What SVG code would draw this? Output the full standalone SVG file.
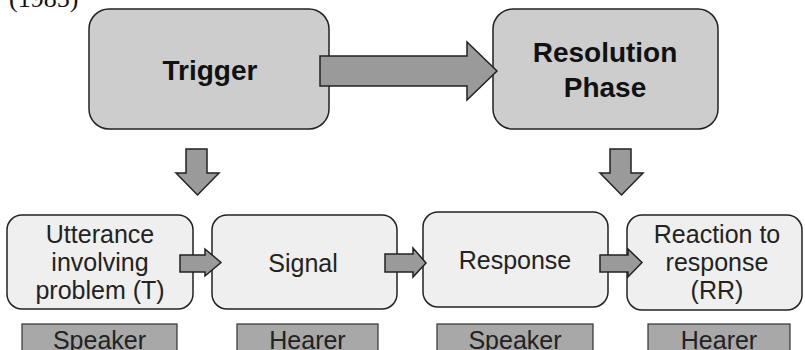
<svg xmlns="http://www.w3.org/2000/svg" width="805" height="350" viewBox="0 0 805 350">
  <style>
    .phase { fill: #cdcdcd; stroke: #222; stroke-width: 1.5; }
    .step { fill: #efefef; stroke: #222; stroke-width: 1.5; }
    .arrow { fill: #9a9a9a; stroke: #222; stroke-width: 1.5; stroke-linejoin: miter; }
    .role { fill: #a8a8a8; stroke: #333; stroke-width: 1.2; }
    .bold { font-family: "Liberation Sans", Arial, sans-serif; font-weight: bold; font-size: 28px; fill: #111; text-anchor: middle; }
    .reg { font-family: "Liberation Sans", Arial, sans-serif; font-size: 25px; fill: #222; text-anchor: middle; }
    .cite { font-family: "Liberation Serif", "Times New Roman", serif; font-size: 26px; fill: #111; }
  </style>

  <text class="cite" x="9" y="7">(1985)</text>

  <g id="trigger">
    <rect class="phase" x="89" y="9" width="240" height="120" rx="20" ry="20"/>
    <text class="bold" x="210" y="80">Trigger</text>
  </g>

  <g id="resolution-phase">
    <rect class="phase" x="493" y="9" width="225" height="120" rx="20" ry="20"/>
    <text class="bold" x="605" y="62">Resolution</text>
    <text class="bold" x="605" y="97">Phase</text>
  </g>

  <g id="utterance">
    <rect class="step" x="7" y="215" width="186" height="94" rx="15" ry="15"/>
    <text class="reg" x="100" y="243">Utterance</text>
    <text class="reg" x="100" y="271">involving</text>
    <text class="reg" x="100" y="299">problem (T)</text>
  </g>

  <g id="signal">
    <rect class="step" x="212" y="215" width="185" height="94" rx="15" ry="15"/>
    <text class="reg" x="303" y="272">Signal</text>
  </g>

  <g id="response">
    <rect class="step" x="423" y="212" width="185" height="95" rx="15" ry="15"/>
    <text class="reg" x="515" y="269">Response</text>
  </g>

  <g id="reaction">
    <rect class="step" x="627" y="215" width="175" height="95" rx="15" ry="15"/>
    <text class="reg" x="717" y="243">Reaction to</text>
    <text class="reg" x="717" y="271">response</text>
    <text class="reg" x="717" y="299">(RR)</text>
  </g>

  <g id="role-speaker-1">
    <rect class="role" x="22" y="324" width="155" height="40"/>
    <text class="reg" x="99.5" y="349">Speaker</text>
  </g>
  <g id="role-hearer-1">
    <rect class="role" x="237" y="324" width="141" height="40"/>
    <text class="reg" x="307.5" y="349">Hearer</text>
  </g>
  <g id="role-speaker-2">
    <rect class="role" x="437" y="324" width="156" height="40"/>
    <text class="reg" x="515" y="349">Speaker</text>
  </g>
  <g id="role-hearer-2">
    <rect class="role" x="648" y="324" width="142" height="40"/>
    <text class="reg" x="719" y="349">Hearer</text>
  </g>

  <g id="connectors">
    <!-- Trigger to Resolution Phase -->
    <polygon class="arrow" points="320,56 467,56 467,42 497,71 467,100 467,86 320,86"/>
    <!-- phases down to the steps -->
    <polygon class="arrow" points="186,149 207,149 207,173 219,173 197.5,195 176,173 186,173"/>
    <polygon class="arrow" points="610,149 631,149 631,173 643,173 621.5,195 600,173 610,173"/>
    <!-- step to step -->
    <polygon class="arrow" points="180,255 205,255 205,249 221,262.5 205,276 205,272 180,272"/>
    <polygon class="arrow" points="385,254 413,254 413,248 426,263 413,277 413,272 385,272"/>
    <polygon class="arrow" points="600,255 628,255 628,249 642,262.5 628,277 628,272 600,272"/>
  </g>
</svg>
